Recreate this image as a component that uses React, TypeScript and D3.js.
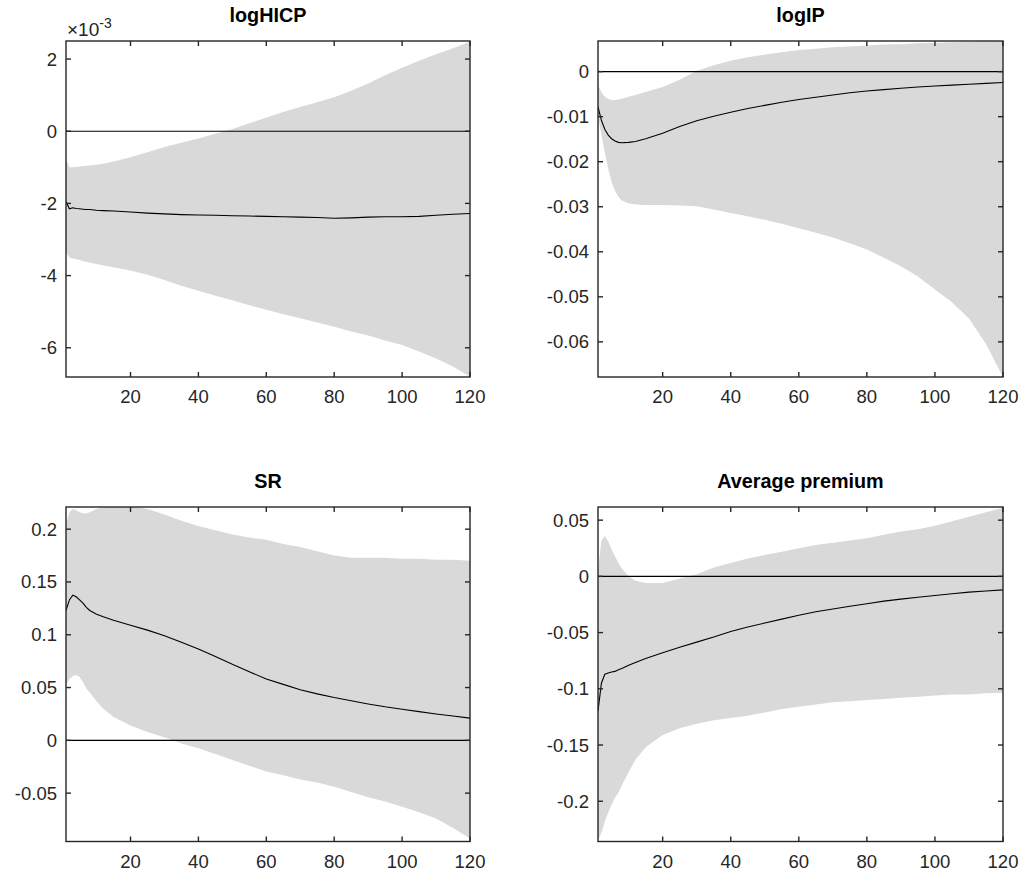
import React from "react";
import * as d3 from "d3";

const horizons = [1, 2, 3, 4, 5, 6, 7, 8, 10, 12, 15, 20, 25, 30, 35, 40, 45, 50, 55, 60, 65, 70, 75, 80, 85, 90, 95, 100, 105, 110, 115, 120];
const xTicks = [20, 40, 60, 80, 100, 120];

// logHICP (values in units of 1e-3)
const hicpMedian = [-1.95, -2.15, -2.12, -2.14, -2.15, -2.16, -2.17, -2.17, -2.19, -2.2, -2.21, -2.24, -2.27, -2.29, -2.31, -2.32, -2.33, -2.34, -2.35, -2.36, -2.37, -2.38, -2.39, -2.41, -2.4, -2.38, -2.37, -2.37, -2.36, -2.33, -2.3, -2.28];
const hicpUpper = [-0.75, -1.0, -1.0, -0.99, -0.98, -0.97, -0.96, -0.95, -0.93, -0.9, -0.84, -0.72, -0.58, -0.44, -0.32, -0.2, -0.07, 0.06, 0.22, 0.38, 0.53, 0.67, 0.8, 0.94, 1.12, 1.32, 1.55, 1.76, 1.95, 2.13, 2.3, 2.48];
const hicpLower = [-3.35, -3.5, -3.53, -3.55, -3.57, -3.6, -3.62, -3.64, -3.68, -3.72, -3.77, -3.86, -3.98, -4.12, -4.28, -4.42, -4.56, -4.68, -4.82, -4.95, -5.07, -5.18, -5.3, -5.42, -5.55, -5.66, -5.8, -5.92, -6.1, -6.3, -6.52, -6.8];
const hicpTicks = [-6, -4, -2, 0, 2];

// logIP
const ipMedian = [-0.0078, -0.0108, -0.0128, -0.0141, -0.0149, -0.0154, -0.0157, -0.0158, -0.0157, -0.0155, -0.0149, -0.0137, -0.0122, -0.0109, -0.0099, -0.009, -0.0082, -0.0075, -0.0068, -0.0062, -0.0057, -0.0052, -0.0047, -0.0043, -0.004, -0.0037, -0.0034, -0.0032, -0.003, -0.0028, -0.0026, -0.0024];
const ipUpper = [-0.003, -0.0045, -0.0056, -0.0061, -0.0063, -0.0063, -0.0062, -0.006, -0.0056, -0.0052, -0.0045, -0.0034, -0.0018, 0.0002, 0.0014, 0.0024, 0.0032, 0.0038, 0.0043, 0.0048, 0.0051, 0.0054, 0.0056, 0.0058, 0.006, 0.0061, 0.0063, 0.0064, 0.0065, 0.0066, 0.0067, 0.0068];
const ipLower = [-0.01, -0.014, -0.018, -0.0215, -0.0245, -0.0265, -0.0278, -0.0286, -0.0292, -0.0295, -0.0296, -0.0296, -0.0297, -0.0299, -0.0306, -0.0314, -0.0321, -0.0329, -0.0338, -0.0348, -0.0358, -0.0368, -0.0381, -0.0395, -0.0413, -0.0432, -0.0455, -0.0484, -0.0512, -0.0548, -0.0605, -0.0678];
const ipTicks = [-0.06, -0.05, -0.04, -0.03, -0.02, -0.01, 0];

// SR
const srMedian = [0.123, 0.133, 0.1375, 0.136, 0.133, 0.13, 0.126, 0.123, 0.1195, 0.117, 0.1138, 0.109, 0.1044, 0.099, 0.093, 0.0865, 0.0795, 0.072, 0.065, 0.058, 0.053, 0.048, 0.044, 0.0405, 0.0375, 0.0345, 0.0318, 0.0295, 0.0272, 0.025, 0.023, 0.021];
const srUpper = [0.205, 0.216, 0.219, 0.218, 0.216, 0.215, 0.215, 0.216, 0.219, 0.221, 0.222, 0.222, 0.219, 0.214, 0.208, 0.203, 0.199, 0.195, 0.192, 0.19, 0.186, 0.183, 0.179, 0.175, 0.173, 0.173, 0.173, 0.172, 0.172, 0.171, 0.171, 0.17];
const srLower = [0.053, 0.058, 0.061, 0.062, 0.06, 0.055, 0.049, 0.045, 0.037, 0.03, 0.022, 0.014, 0.008, 0.003, -0.003, -0.0075, -0.013, -0.0185, -0.024, -0.0295, -0.033, -0.037, -0.04, -0.044, -0.049, -0.054, -0.058, -0.063, -0.068, -0.074, -0.083, -0.093];
const srTicks = [-0.05, 0, 0.05, 0.1, 0.15, 0.2];

// Average premium
const apMedian = [-0.12, -0.095, -0.087, -0.086, -0.085, -0.0845, -0.083, -0.082, -0.079, -0.0765, -0.073, -0.068, -0.063, -0.0585, -0.054, -0.049, -0.045, -0.0415, -0.038, -0.0345, -0.0315, -0.029, -0.0265, -0.0243, -0.022, -0.0202, -0.0185, -0.017, -0.0155, -0.014, -0.013, -0.012];
const apUpper = [0.005, 0.032, 0.036, 0.031, 0.024, 0.018, 0.012, 0.007, 0.0, -0.004, -0.006, -0.006, -0.002, 0.002, 0.008, 0.012, 0.016, 0.019, 0.022, 0.025, 0.028, 0.03, 0.032, 0.034, 0.037, 0.04, 0.042, 0.045, 0.049, 0.053, 0.057, 0.061];
const apLower = [-0.235, -0.228, -0.218, -0.21, -0.203, -0.197, -0.192, -0.186, -0.174, -0.163, -0.152, -0.141, -0.135, -0.131, -0.128, -0.126, -0.124, -0.121, -0.118, -0.116, -0.114, -0.112, -0.111, -0.11, -0.109, -0.108, -0.107, -0.106, -0.105, -0.105, -0.104, -0.1035];
const apTicks = [-0.2, -0.15, -0.1, -0.05, 0, 0.05];

const FONT = "'Liberation Sans', Arial, Helvetica, sans-serif";
const AXIS = "#262626";
const BAND = "#d9d9d9";

type Panel = {
  id: string;
  title: string;
  left: number;
  top: number;
  width: number;
  height: number;
  yDomain: [number, number];
  ticks: number[];
  median: number[];
  upper: number[];
  lower: number[];
  exponent?: boolean;
};

const panels: Panel[] = [
  { id: "p1", title: "logHICP", left: 66, top: 41, width: 404, height: 336, yDomain: [-6.81, 2.5], ticks: hicpTicks, median: hicpMedian, upper: hicpUpper, lower: hicpLower, exponent: true },
  { id: "p2", title: "logIP", left: 598, top: 41, width: 405, height: 336, yDomain: [-0.0678, 0.0068], ticks: ipTicks, median: ipMedian, upper: ipUpper, lower: ipLower },
  { id: "p3", title: "SR", left: 66, top: 507, width: 404, height: 334.5, yDomain: [-0.0958, 0.221], ticks: srTicks, median: srMedian, upper: srUpper, lower: srLower },
  { id: "p4", title: "Average premium", left: 598, top: 507, width: 405, height: 334.5, yDomain: [-0.2358, 0.0617], ticks: apTicks, median: apMedian, upper: apUpper, lower: apLower },
];

const fmt = (v: number) => String(+v.toFixed(4));

function PanelView({ p }: { p: Panel }) {
  const x = d3.scaleLinear().domain([1, 120]).range([p.left, p.left + p.width]);
  const y = d3.scaleLinear().domain(p.yDomain).range([p.top + p.height, p.top]);
  const idx = horizons.map((_, i) => i);
  const area = d3
    .area<number>()
    .x((i) => x(horizons[i]))
    .y0((i) => y(p.lower[i]))
    .y1((i) => y(p.upper[i]));
  const line = d3
    .line<number>()
    .x((i) => x(horizons[i]))
    .y((i) => y(p.median[i]));
  const tl = 5;
  const right = p.left + p.width;
  const bottom = p.top + p.height;
  return (
    <g>
      <defs>
        <clipPath id={`clip-${p.id}`}>
          <rect x={p.left} y={p.top} width={p.width} height={p.height} />
        </clipPath>
      </defs>
      <g clipPath={`url(#clip-${p.id})`}>
        <path d={area(idx) || ""} fill={BAND} stroke="none" />
        <line x1={x(1)} x2={x(120)} y1={y(0)} y2={y(0)} stroke="#000" strokeWidth={1.2} />
        <path d={line(idx) || ""} fill="none" stroke="#000" strokeWidth={1.1} />
      </g>
      <rect x={p.left} y={p.top} width={p.width} height={p.height} fill="none" stroke={AXIS} strokeWidth={1.4} />
      {xTicks.map((t) => (
        <g key={`xt${t}`}>
          <line x1={x(t)} x2={x(t)} y1={bottom} y2={bottom - tl} stroke={AXIS} strokeWidth={1.4} />
          <line x1={x(t)} x2={x(t)} y1={p.top} y2={p.top + tl} stroke={AXIS} strokeWidth={1.4} />
          <text x={x(t)} y={bottom + 26} textAnchor="middle" fontSize={18.5} fill={AXIS} fontFamily={FONT}>
            {t}
          </text>
        </g>
      ))}
      {p.ticks.map((t) => (
        <g key={`yt${t}`}>
          <line x1={p.left} x2={p.left + tl} y1={y(t)} y2={y(t)} stroke={AXIS} strokeWidth={1.4} />
          <line x1={right} x2={right - tl} y1={y(t)} y2={y(t)} stroke={AXIS} strokeWidth={1.4} />
          <text x={p.left - 9} y={y(t)} dy="0.35em" textAnchor="end" fontSize={18.5} fill={AXIS} fontFamily={FONT}>
            {fmt(t)}
          </text>
        </g>
      ))}
      <text x={p.left + p.width / 2} y={p.top - 19} textAnchor="middle" fontSize={19.8} fontWeight="bold" fill="#000" fontFamily={FONT}>
        {p.title}
      </text>
      {p.exponent && (
        <text x={p.left + 1} y={p.top - 5} fontSize={19} fill={AXIS} fontFamily={FONT}>
          <tspan>×10</tspan>
          <tspan fontSize={14} dy={-8}>-3</tspan>
        </text>
      )}
    </g>
  );
}

export default function App() {
  return (
    <svg width={1026} height={878} style={{ position: "absolute", left: 0, top: 0, background: "#fff" }}>
      <rect x={0} y={0} width={1026} height={878} fill="#fff" />
      {panels.map((p) => (
        <PanelView key={p.id} p={p} />
      ))}
    </svg>
  );
}
